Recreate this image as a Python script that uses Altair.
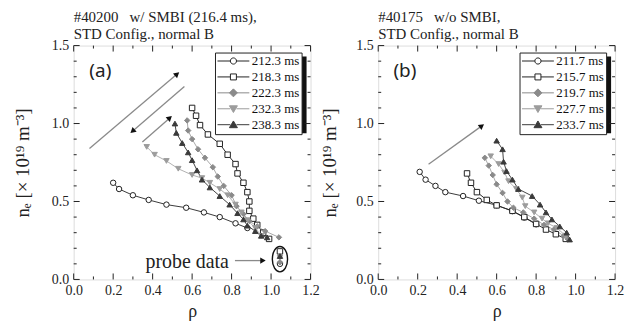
import math
import altair as alt
import pandas as pd

SERIF = "Liberation Serif"
W, H = 238, 235

# ---------------- data: panel (a) ----------------
a_series = ["212.3 ms", "218.3 ms", "222.3 ms", "232.3 ms", "238.3 ms"]
a_212_rho = [0.20, 0.23, 0.30, 0.38, 0.47, 0.57, 0.66, 0.74, 0.82, 0.88]
a_212_ne = [0.62, 0.58, 0.54, 0.51, 0.48, 0.46, 0.43, 0.40, 0.36, 0.33]
a_218_rho = [0.60, 0.62, 0.64, 0.68, 0.74, 0.78, 0.82, 0.83, 0.86, 0.88, 0.89, 0.89, 0.91, 0.93, 0.96, 0.99]
a_218_ne = [1.10, 1.05, 0.99, 0.93, 0.87, 0.80, 0.74, 0.68, 0.62, 0.56, 0.50, 0.44, 0.39, 0.35, 0.30, 0.26]
a_222_rho = [0.575, 0.58, 0.60, 0.63, 0.665, 0.705, 0.73, 0.76, 0.80, 0.825, 0.86, 0.89, 0.93, 0.97, 1.04]
a_222_ne = [1.02, 0.955, 0.90, 0.835, 0.78, 0.72, 0.66, 0.60, 0.54, 0.47, 0.42, 0.375, 0.34, 0.31, 0.27]
a_232_rho = [0.37, 0.41, 0.47, 0.53, 0.60, 0.65, 0.69, 0.74, 0.78, 0.82, 0.85, 0.88, 0.92, 0.95]
a_232_ne = [0.85, 0.80, 0.76, 0.71, 0.67, 0.65, 0.62, 0.58, 0.54, 0.48, 0.43, 0.38, 0.33, 0.28]
a_238_rho = [0.513, 0.52, 0.55, 0.58, 0.60, 0.625, 0.65, 0.69, 0.74, 0.79, 0.83, 0.86, 0.88, 0.92, 0.95, 0.98]
a_238_ne = [1.00, 0.94, 0.875, 0.815, 0.765, 0.70, 0.64, 0.59, 0.535, 0.48, 0.425, 0.385, 0.345, 0.31, 0.28, 0.27]

# probe data (panel a), one value per series
a_probe_rho = [1.045, 1.045, 1.045, 1.045, 1.045]
a_probe_ne = [0.10, 0.18, 0.11, 0.14, 0.15]

# ---------------- data: panel (b) ----------------
b_series = ["211.7 ms", "215.7 ms", "219.7 ms", "227.7 ms", "233.7 ms"]
b_211_rho = [0.21, 0.24, 0.29, 0.34, 0.43, 0.51, 0.60, 0.68, 0.74, 0.80]
b_211_ne = [0.69, 0.64, 0.60, 0.56, 0.535, 0.505, 0.476, 0.438, 0.397, 0.354]
b_215_rho = [0.45, 0.47, 0.50, 0.55, 0.60, 0.68, 0.74, 0.80, 0.85, 0.90, 0.95]
b_215_ne = [0.68, 0.62, 0.56, 0.51, 0.475, 0.44, 0.40, 0.356, 0.32, 0.29, 0.26]
b_219_rho = [0.54, 0.56, 0.58, 0.60, 0.63, 0.655, 0.685, 0.735, 0.79, 0.84, 0.89, 0.94, 0.96]
b_219_ne = [0.78, 0.73, 0.67, 0.61, 0.555, 0.50, 0.46, 0.43, 0.39, 0.35, 0.32, 0.28, 0.26]
b_227_rho = [0.57, 0.61, 0.64, 0.66, 0.70, 0.73, 0.745, 0.79, 0.83, 0.86, 0.905, 0.95]
b_227_ne = [0.79, 0.74, 0.685, 0.63, 0.58, 0.525, 0.47, 0.43, 0.39, 0.36, 0.33, 0.28]
b_233_rho = [0.60, 0.63, 0.635, 0.65, 0.68, 0.71, 0.78, 0.82, 0.85, 0.88, 0.92, 0.955, 0.97]
b_233_ne = [0.89, 0.835, 0.755, 0.695, 0.64, 0.58, 0.535, 0.48, 0.43, 0.385, 0.34, 0.30, 0.256]

# ---------------- annotations ----------------
a_arrow_rho0 = [0.08, 0.561, 0.348, 0.817]
a_arrow_ne0 = [0.84, 1.238, 0.881, 0.121]
a_arrow_rho1 = [0.524, 0.298, 0.487, 0.959]
a_arrow_ne1 = [1.317, 0.951, 1.036, 0.121]
b_arrow_rho0 = [0.255]
b_arrow_ne0 = [0.739]
b_arrow_rho1 = [0.525]
b_arrow_ne1 = [0.985]

a_tag = "(a)"
b_tag = "(b)"
tag_rho = 0.135
tag_ne = 1.335
probe_text = "probe data"
probe_text_rho = 0.575
probe_text_ne = 0.11
ellipse_rho = 1.045
ellipse_ne = 0.13

a_title = ["#40200\u00a0\u00a0\u00a0w/ SMBI (216.4 ms),", "STD Config., normal B"]
b_title = ["#40175\u00a0\u00a0\u00a0w/o SMBI,", "STD Config., normal B"]

x_major = [0.0, 0.2, 0.4, 0.6, 0.8, 1.0, 1.2]
x_minor = [0.1, 0.3, 0.5, 0.7, 0.9, 1.1]
y_major = [0.0, 0.5, 1.0, 1.5]
y_minor = [0.1, 0.2, 0.3, 0.4, 0.6, 0.7, 0.8, 0.9, 1.1, 1.2, 1.3, 1.4]

# ---------------- styles ----------------
shapes = ["circle", "square", "diamond", "triangle-down", "triangle-up"]
fills = ["white", "white", "#8a8a8a", "#9c9c9c", "#3a3a3a"]
strokes = ["#222222", "#222222", "#8a8a8a", "#9c9c9c", "#3a3a3a"]
line_colors = ["#3a3a3a", "#2a2a2a", "#a8a8a8", "#b0b0b0", "#444444"]

seg = "M-3.2,0H-0.62M0.62,0H3.2"
legend_paths = [
    seg + "M0.62,0A0.62,0.62 0 1,1 -0.62,0A0.62,0.62 0 1,1 0.62,0Z",
    seg + "M-0.6,-0.6H0.6V0.6H-0.6Z",
    seg + "M0,-0.8L0.8,0L0,0.8L-0.8,0Z",
    seg + "M0,0.75L0.8,-0.6L-0.8,-0.6Z",
    seg + "M0,-0.75L0.8,0.6L-0.8,0.6Z",
]
ellipse_path = "M0,-1A0.6,1 0 1,1 0,1A0.6,1 0 1,1 0,-1Z"

xscale = alt.Scale(domain=[0, 1.2], nice=False, zero=False)
yscale = alt.Scale(domain=[0, 1.5], nice=False, zero=False)


def make_axes(ytitle_pad):
    xax = alt.Axis(values=x_major, format=".1f", title="ρ", ticks=False, domain=False,
                   grid=False, labelFont=SERIF, labelFontSize=14, labelColor="#222",
                   titleFont=SERIF, titleFontSize=18, titleFontWeight="normal",
                   titleColor="#222", labelPadding=4, titlePadding=5, labelFlush=False,
                   labelOverlap=False)
    yax = alt.Axis(values=y_major, format=".1f", title="nₑ [× 10¹⁹ m⁻³]", ticks=False,
                   domain=False, grid=False, labelFont=SERIF, labelFontSize=14,
                   labelColor="#222", titleFont=SERIF, titleFontSize=19,
                   titleFontWeight="normal", titleColor="#222", labelPadding=5,
                   titlePadding=ytitle_pad, labelFlush=False, labelOverlap=False)
    return xax, yax


def series_frame(names, rhos, nes):
    rows = []
    for name, rr, nn in zip(names, rhos, nes):
        for i, (r, n) in enumerate(zip(rr, nn)):
            rows.append({"series": name, "rho": r, "ne": n, "idx": i})
    return pd.DataFrame(rows)


def make_panel(names, rhos, nes, title, tag, ar0, an0, ar1, an1, ytitle_pad,
               probe=None, show_probe=False):
    xax, yax = make_axes(ytitle_pad)

    def XF(field):
        return alt.X(field, type="quantitative", scale=xscale, axis=xax)

    def YF(field):
        return alt.Y(field, type="quantitative", scale=yscale, axis=yax)

    df = series_frame(names, rhos, nes)
    pts = df.copy()
    if probe is not None:
        pr = pd.DataFrame({"series": names, "rho": probe[0], "ne": probe[1], "idx": 99})
        pts = pd.concat([pts, pr], ignore_index=True)

    layers = []

    # series lines (first layer: carries the axes)
    layers.append(alt.Chart(df).mark_line(strokeWidth=1).encode(
        x=XF("rho"), y=YF("ne"),
        stroke=alt.Stroke("series:N", scale=alt.Scale(domain=names, range=line_colors), legend=None),
        order="idx:Q"))

    # legend shadow
    layers.append(alt.Chart(pd.DataFrame({"k": [0]})).mark_rect(color="#111").encode(
        x=alt.value(146), x2=alt.value(234), y=alt.value(11), y2=alt.value(88)))

    # inward ticks
    for vals, ln in ((y_major, 6), (y_minor, 3)):
        base = alt.Chart(pd.DataFrame({"v": vals})).mark_rule(color="#222", strokeWidth=1)
        layers.append(base.encode(y=YF("v"), x=alt.value(0), x2=alt.value(ln)))
        layers.append(base.encode(y=YF("v"), x=alt.value(W), x2=alt.value(W - ln)))
    for vals, ln in ((x_major, 6), (x_minor, 3)):
        base = alt.Chart(pd.DataFrame({"v": vals})).mark_rule(color="#222", strokeWidth=1)
        layers.append(base.encode(x=XF("v"), y=alt.value(H), y2=alt.value(H - ln)))
        layers.append(base.encode(x=XF("v"), y=alt.value(0), y2=alt.value(ln)))

    # arrows
    arr = pd.DataFrame({"rho0": ar0, "ne0": an0, "rho1": ar1, "ne1": an1})
    px, py = W / 1.2, H / 1.5
    arr["angle"] = [
        math.degrees(math.atan2(-(b1 - b0) * py, (a1 - a0) * px)) % 360
        for a0, b0, a1, b1 in zip(ar0, an0, ar1, an1)
    ]
    layers.append(alt.Chart(arr).mark_rule(color="#8a8a8a", strokeWidth=1.3).encode(
        x=XF("rho0"), y=YF("ne0"), x2="rho1:Q", y2="ne1:Q"))
    layers.append(alt.Chart(arr).mark_point(shape="triangle-right", filled=True, size=40,
                                            color="#111", opacity=1).encode(
        x=XF("rho1"), y=YF("ne1"), angle=alt.Angle("angle:Q", scale=None)))

    # series markers
    layers.append(alt.Chart(pts).mark_point(filled=True, size=30, strokeWidth=1, opacity=1).encode(
        x=XF("rho"), y=YF("ne"),
        shape=alt.Shape("series:N", scale=alt.Scale(domain=names, range=shapes), legend=None),
        fill=alt.Fill("series:N", scale=alt.Scale(domain=names, range=fills), legend=None),
        stroke=alt.Stroke("series:N", scale=alt.Scale(domain=names, range=strokes), legend=None)))

    # panel tag
    layers.append(alt.Chart(pd.DataFrame({"rho": [tag_rho], "ne": [tag_ne], "t": [tag]})).mark_text(
        font="Noto Sans", fontSize=19, color="#222").encode(x=XF("rho"), y=YF("ne"), text="t:N"))

    if show_probe:
        layers.append(alt.Chart(pd.DataFrame({"rho": [probe_text_rho], "ne": [probe_text_ne],
                                              "t": [probe_text]})).mark_text(
            font=SERIF, fontSize=20, color="#222").encode(x=XF("rho"), y=YF("ne"), text="t:N"))
        layers.append(alt.Chart(pd.DataFrame({"rho": [ellipse_rho], "ne": [ellipse_ne]})).mark_point(
            shape=ellipse_path, size=650, filled=False, color="#111", strokeWidth=1.4,
            opacity=1).encode(x=XF("rho"), y=YF("ne")))

    # legend-only layer
    leg = alt.Legend(orient="none", legendX=142, legendY=7, title=None, fillColor="white",
                     strokeColor="#222", padding=2, labelFont=SERIF, labelFontSize=13,
                     labelColor="#111", symbolSize=100, symbolStrokeWidth=1, symbolOffset=10,
                     labelOffset=12, rowPadding=2)
    layers.append(alt.Chart(df).transform_filter("false").mark_point(
        filled=True, size=100, strokeWidth=1, opacity=1).encode(
        x=XF("rho"), y=YF("ne"),
        shape=alt.Shape("series:N", scale=alt.Scale(domain=names, range=legend_paths), legend=leg),
        fill=alt.Fill("series:N", scale=alt.Scale(domain=names, range=fills), legend=leg),
        stroke=alt.Stroke("series:N", scale=alt.Scale(domain=names, range=strokes), legend=leg)))

    return alt.layer(*layers).resolve_scale(
        shape="independent", fill="independent", stroke="independent"
    ).properties(
        width=W, height=H,
        title=alt.TitleParams(text=title, anchor="start", frame="group", font=SERIF,
                              fontSize=15, fontWeight="normal", color="#222",
                              offset=-3, lineHeight=17),
    )


panel_a = make_panel(
    a_series,
    [a_212_rho, a_218_rho, a_222_rho, a_232_rho, a_238_rho],
    [a_212_ne, a_218_ne, a_222_ne, a_232_ne, a_238_ne],
    a_title, a_tag, a_arrow_rho0, a_arrow_ne0, a_arrow_rho1, a_arrow_ne1, 19,
    probe=(a_probe_rho, a_probe_ne), show_probe=True)

panel_b = make_panel(
    b_series,
    [b_211_rho, b_215_rho, b_219_rho, b_227_rho, b_233_rho],
    [b_211_ne, b_215_ne, b_219_ne, b_227_ne, b_233_ne],
    b_title, b_tag, b_arrow_rho0, b_arrow_ne0, b_arrow_rho1, b_arrow_ne1, 16)

chart = alt.hconcat(panel_a, panel_b, spacing=0).resolve_scale(
    shape="independent", fill="independent", stroke="independent"
).resolve_legend(shape="independent", fill="independent", stroke="independent").properties(
    padding={"left": 5, "top": 0, "right": 5, "bottom": 0}
).configure_view(stroke="#111", strokeWidth=1.3).configure(background="white")

chart.save("out.html", embed_options={"renderer": "svg", "actions": False})
